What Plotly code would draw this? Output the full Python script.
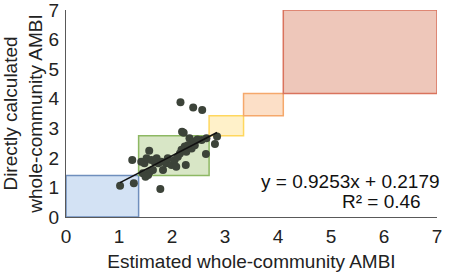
import plotly.graph_objects as go

# Scatter data (estimated vs directly calculated AMBI)
est_ambi = [2.16, 2.40, 2.57, 2.19, 2.81, 2.64, 1.57, 1.25, 1.02, 1.28, 1.78, 2.26,
            2.33, 2.40, 2.56, 2.65, 2.48, 2.85,
            1.42, 1.48, 1.52, 1.55, 1.58, 1.61, 1.67, 1.71, 1.74, 1.80, 1.83, 1.89,
            1.92, 1.99, 2.05, 2.08, 2.11, 2.15, 2.18, 2.24, 2.27, 2.30, 2.37, 2.43,
            1.45, 1.50, 1.64, 2.22]
calc_ambi = [3.88, 3.70, 3.62, 2.88, 2.47, 2.13, 2.24, 1.93, 1.06, 1.14, 0.95, 1.76,
             2.66, 2.55, 2.60, 2.66, 2.62, 2.72,
             1.87, 1.82, 1.99, 1.42, 1.53, 1.93, 1.87, 1.99, 1.82, 1.87, 1.59, 1.82,
             1.99, 1.76, 1.93, 1.70, 2.04, 2.15, 2.27, 2.38, 2.21, 2.43, 2.32, 2.43,
             1.48, 1.36, 1.59, 2.85]

# Regression
slope = 0.9253
intercept = 0.2179
r2 = 0.46

# Ecological status class boxes (x bounds, y bounds)
box_x = [0, 1.37, 2.7, 3.35, 4.1, 7]
box_y = [0, 1.4, 2.75, 3.42, 4.18, 7]
box_fill = ["#d3e2f4", "#d8e6c6", "#fff1c9", "#fcdfc7", "#eec7ba"]
box_line = ["#6f8fbd", "#8db863", "#ffd75e", "#f5a86b", "#d9735d"]

tick_vals = [0, 1, 2, 3, 4, 5, 6, 7]

fig = go.Figure()

for i in range(len(box_fill)):
    fig.add_shape(type="rect", xref="x", yref="y",
                  x0=box_x[i], x1=box_x[i + 1], y0=box_y[i], y1=box_y[i + 1],
                  fillcolor=box_fill[i], line=dict(color=box_line[i], width=1.5),
                  layer="below")

fig.add_trace(go.Scatter(x=est_ambi, y=calc_ambi, mode="markers",
                         marker=dict(size=8, color="#3c4339"),
                         showlegend=False, hoverinfo="skip"))

lx = [min(est_ambi), max(est_ambi)]
ly = [slope * v + intercept for v in lx]
fig.add_trace(go.Scatter(x=lx, y=ly, mode="lines",
                         line=dict(color="#111111", width=1.6),
                         showlegend=False, hoverinfo="skip"))

font_family = "Arial, Liberation Sans, sans-serif"
fig.add_annotation(x=1.013, y=1.19, xref="paper", yref="y", xanchor="right", yanchor="middle",
                   text=f"y = {slope}x + {intercept}", showarrow=False,
                   font=dict(size=19, color="#111111", family=font_family))
fig.add_annotation(x=0.962, y=0.52, xref="paper", yref="y", xanchor="right", yanchor="middle",
                   text=f"R² = {r2}", showarrow=False,
                   font=dict(size=19, color="#111111", family=font_family))

fig.update_layout(
    width=449, height=276,
    margin=dict(l=66, r=12, t=10, b=59),
    paper_bgcolor="white", plot_bgcolor="white",
    font=dict(family=font_family, size=19, color="#222222"),
    xaxis=dict(range=[0, 7], tickvals=tick_vals, showgrid=False, zeroline=False,
               showline=True, linecolor="#595959", linewidth=1, ticks="",
               automargin=False, ticklabelstandoff=2, ticklabeloverflow="allow",
               title=dict(text="Estimated whole-community AMBI", standoff=8,
                          font=dict(size=19)),
               tickfont=dict(size=19)),
    yaxis=dict(range=[0, 7], tickvals=tick_vals, showgrid=False, zeroline=False,
               showline=True, linecolor="#595959", linewidth=1, ticks="",
               automargin=False, ticklabelstandoff=2, ticklabeloverflow="allow",
               title=dict(text="Directly calculated<br>whole-community AMBI", standoff=4,
                          font=dict(size=19)),
               tickfont=dict(size=19)),
)

fig.write_html("out.html", config={"displayModeBar": False},
               post_script="document.body.style.margin='0';document.body.style.overflow='hidden';")
